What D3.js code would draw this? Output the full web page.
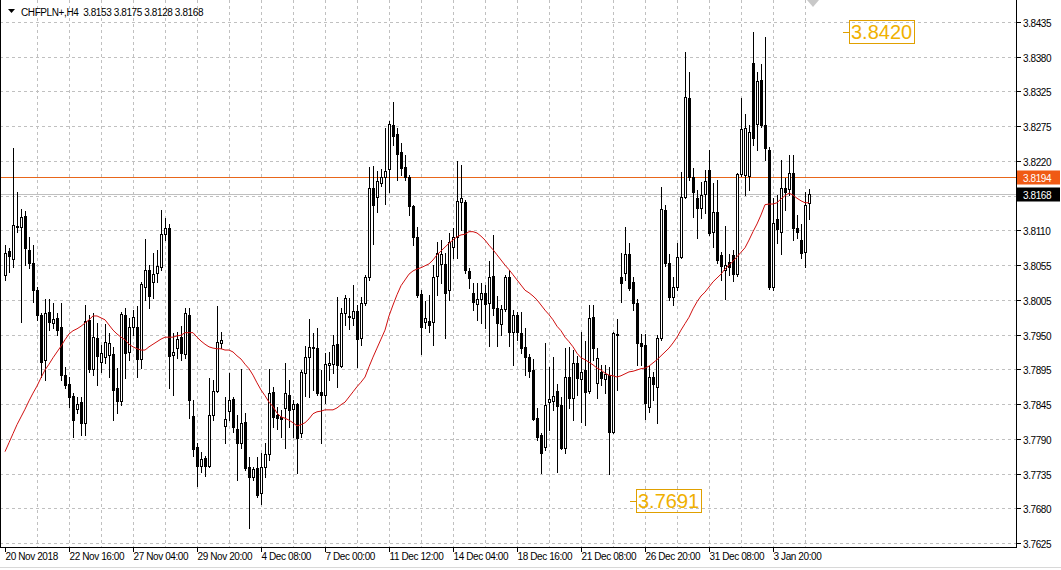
<!DOCTYPE html>
<html>
<head>
<meta charset="utf-8">
<style>
  body { margin: 0; background: #fff; }
  svg text { font-family: "Liberation Sans", Arial, sans-serif; font-size: 10px; letter-spacing: -0.4px; fill: #000; }
</style>
</head>
<body>
<svg id="chart" width="1061" height="570"></svg>
<script src="https://d3js.org/d3.v7.min.js"></script>
<script>
// CHFPLN+ H4 candles
var title = "CHFPLN+,H4  3.8153 3.8175 3.8128 3.8168";

var open = [
  3.8042, 3.8079, 3.8066, 3.8118, 3.8116, 3.8133, 3.8081, 3.8060, 3.8018, 3.7980,
  3.7910, 3.7984, 3.7967, 3.7975, 3.7961, 3.7886, 3.7872, 3.7854, 3.7833, 3.7844,
  3.7812, 3.7972, 3.7896, 3.7944, 3.7906, 3.7914, 3.7917, 3.7919, 3.7866, 3.7846,
  3.7980, 3.7922, 3.7961, 3.7961, 3.7911, 3.8023, 3.8050, 3.8031, 3.8045, 3.8054,
  3.8105, 3.8115, 3.7917, 3.7928, 3.7945, 3.7919, 3.7980, 3.7823, 3.7774, 3.7745,
  3.7757, 3.7745, 3.7824, 3.7861, 3.7936, 3.7807, 3.7830, 3.7849, 3.7802, 3.7781,
  3.7813, 3.7743, 3.7728, 3.7742, 3.7703, 3.7743, 3.7763, 3.7860, 3.7824, 3.7821,
  3.7835, 3.7855, 3.7833, 3.7841, 3.7796, 3.7889, 3.7914, 3.7930, 3.7928, 3.7860,
  3.7855, 3.7902, 3.7903, 3.7934, 3.7900, 3.7983, 3.7978, 3.7975, 3.7986, 3.7944,
  3.7998, 3.8039, 3.8177, 3.8163, 3.8185, 3.8194, 3.8206, 3.8275, 3.8261, 3.8233,
  3.8210, 3.8194, 3.8149, 3.8101, 3.8012, 3.7969, 3.7970, 3.7969, 3.8040, 3.8059,
  3.8059, 3.8018, 3.8085, 3.8101, 3.8155, 3.8155, 3.8048, 3.8014, 3.7997, 3.8004,
  3.8014, 3.7998, 3.8040, 3.7990, 3.7966, 3.7989, 3.8039, 3.7953, 3.7980, 3.7951,
  3.7930, 3.7914, 3.7894, 3.7819, 3.7793, 3.7774, 3.7844, 3.7846, 3.7861, 3.7840,
  3.7773, 3.7883, 3.7851, 3.7905, 3.7880, 3.7894, 3.7861, 3.7976, 3.7874, 3.7891,
  3.7880, 3.7886, 3.7798, 3.7950, 3.8039, 3.8045, 3.8074, 3.8031, 3.7998, 3.7936,
  3.7933, 3.7837, 3.7883, 3.7868, 3.7944, 3.8143, 3.8060, 3.8008, 3.8023, 3.8070,
  3.8163, 3.8317, 3.8194, 3.8161, 3.8146, 3.8168, 3.8205, 3.8109, 3.8140, 3.8073,
  3.8050, 3.8062, 3.8073, 3.8043, 3.8199, 3.8197, 3.8196, 3.8371, 3.8276, 3.8345,
  3.8275, 3.8236, 3.8023, 3.8129, 3.8109, 3.8177, 3.8175, 3.8200, 3.8115, 3.8096,
  3.8077, 3.8153
];
var high = [
  3.8088, 3.8084, 3.8239, 3.8171, 3.8144, 3.8141, 3.8101, 3.8088, 3.8023, 3.7983,
  3.8004, 3.8004, 3.7998, 3.7983, 3.7998, 3.7899, 3.7883, 3.7858, 3.7852, 3.7852,
  3.7995, 3.7980, 3.7983, 3.7967, 3.7933, 3.7966, 3.7952, 3.7930, 3.7897, 3.7984,
  3.7990, 3.7975, 3.7987, 3.7994, 3.8031, 3.8098, 3.8057, 3.8076, 3.8081, 3.8143,
  3.8130, 3.8121, 3.7952, 3.7953, 3.7962, 3.7990, 3.7990, 3.7847, 3.7781, 3.7767,
  3.7760, 3.7882, 3.7878, 3.7994, 3.7953, 3.7852, 3.7889, 3.7852, 3.7824, 3.7896,
  3.7827, 3.7759, 3.7743, 3.7759, 3.7765, 3.7781, 3.7896, 3.7868, 3.7837, 3.7832,
  3.7905, 3.7878, 3.7847, 3.7843, 3.7894, 3.7931, 3.7973, 3.7952, 3.7959, 3.7894,
  3.7920, 3.7922, 3.7948, 3.8008, 3.7990, 3.8011, 3.8006, 3.8026, 3.7995, 3.8008,
  3.8042, 3.8210, 3.8211, 3.8203, 3.8206, 3.8270, 3.8281, 3.8311, 3.8270, 3.8247,
  3.8228, 3.8197, 3.8151, 3.8116, 3.8018, 3.8001, 3.8011, 3.8057, 3.8093, 3.8096,
  3.8076, 3.8107, 3.8115, 3.8219, 3.8213, 3.8158, 3.8053, 3.8029, 3.8029, 3.8029,
  3.8026, 3.8063, 3.8104, 3.8009, 3.7995, 3.8042, 3.8050, 3.7987, 3.7984, 3.7984,
  3.7959, 3.7919, 3.7911, 3.7835, 3.7796, 3.7936, 3.7899, 3.7914, 3.7872, 3.7852,
  3.7928, 3.7930, 3.7925, 3.7916, 3.7953, 3.7939, 3.7995, 3.7995, 3.7928, 3.7902,
  3.7902, 3.7899, 3.7953, 3.7973, 3.8076, 3.8116, 3.8091, 3.8039, 3.8004, 3.7950,
  3.7950, 3.7900, 3.7891, 3.7948, 3.8179, 3.8151, 3.8074, 3.8039, 3.8091, 3.8202,
  3.8388, 3.8357, 3.8208, 3.8174, 3.8186, 3.8205, 3.8236, 3.8185, 3.8189, 3.8077,
  3.8118, 3.8074, 3.8081, 3.8200, 3.8317, 3.8292, 3.8275, 3.8420, 3.8357, 3.8370,
  3.8412, 3.8241, 3.8161, 3.8166, 3.8220, 3.8192, 3.8228, 3.8228, 3.8135, 3.8121,
  3.8171, 3.8175
];
var low = [
  3.8034, 3.8046, 3.8054, 3.8109, 3.7969, 3.8057, 3.8053, 3.8000, 3.7972, 3.7883,
  3.7878, 3.7956, 3.7959, 3.7948, 3.7878, 3.7866, 3.7837, 3.7790, 3.7827, 3.7793,
  3.7793, 3.7891, 3.7886, 3.7871, 3.7891, 3.7905, 3.7883, 3.7816, 3.7827, 3.7840,
  3.7882, 3.7910, 3.7948, 3.7883, 3.7897, 3.8003, 3.7990, 3.8006, 3.8031, 3.8050,
  3.8096, 3.7866, 3.7855, 3.7913, 3.7910, 3.7913, 3.7819, 3.7760, 3.7714, 3.7735,
  3.7729, 3.7743, 3.7816, 3.7860, 3.7928, 3.7781, 3.7816, 3.7798, 3.7723, 3.7773,
  3.7739, 3.7648, 3.7723, 3.7697, 3.7686, 3.7728, 3.7754, 3.7805, 3.7802, 3.7790,
  3.7773, 3.7805, 3.7790, 3.7734, 3.7790, 3.7854, 3.7852, 3.7863, 3.7855, 3.7781,
  3.7843, 3.7878, 3.7889, 3.7868, 3.7899, 3.7964, 3.7958, 3.7964, 3.7899, 3.7933,
  3.7995, 3.8034, 3.8090, 3.8140, 3.8180, 3.8152, 3.8171, 3.8244, 3.8189, 3.8197,
  3.8189, 3.8135, 3.8088, 3.8008, 3.7919, 3.7959, 3.7953, 3.7933, 3.8011, 3.8029,
  3.7944, 3.8003, 3.8068, 3.8068, 3.8112, 3.8045, 3.8022, 3.7987, 3.7972, 3.7967,
  3.7959, 3.7931, 3.7980, 3.7931, 3.7948, 3.7986, 3.7931, 3.7902, 3.7941, 3.7920,
  3.7886, 3.7883, 3.7816, 3.7785, 3.7734, 3.7770, 3.7801, 3.7832, 3.7735, 3.7771,
  3.7765, 3.7835, 3.7816, 3.7855, 3.7813, 3.7809, 3.7858, 3.7910, 3.7851, 3.7871,
  3.7858, 3.7732, 3.7796, 3.7863, 3.8000, 3.8034, 3.8018, 3.7987, 3.7902, 3.7902,
  3.7818, 3.7829, 3.7847, 3.7812, 3.7941, 3.8055, 3.8003, 3.7995, 3.8018, 3.8068,
  3.8161, 3.8189, 3.8132, 3.8099, 3.8130, 3.8138, 3.8104, 3.8085, 3.8060, 3.8034,
  3.8004, 3.8042, 3.8032, 3.8040, 3.8196, 3.8166, 3.8174, 3.8244, 3.8236, 3.8272,
  3.8220, 3.8020, 3.8018, 3.8091, 3.8074, 3.8143, 3.8166, 3.8096, 3.8099, 3.8068,
  3.8054, 3.8128
];
var close = [
  3.8076, 3.8071, 3.8119, 3.8116, 3.8132, 3.8084, 3.8060, 3.8018, 3.7980, 3.7906,
  3.7983, 3.7969, 3.7973, 3.7956, 3.7886, 3.7871, 3.7852, 3.7816, 3.7841, 3.7812,
  3.7970, 3.7896, 3.7945, 3.7916, 3.7920, 3.7938, 3.7936, 3.7863, 3.7846, 3.7981,
  3.7920, 3.7961, 3.7976, 3.7911, 3.8028, 3.8050, 3.8009, 3.8043, 3.8056, 3.8105,
  3.8115, 3.7916, 3.7922, 3.7942, 3.7920, 3.7983, 3.7847, 3.7771, 3.7745, 3.7756,
  3.7745, 3.7824, 3.7861, 3.7938, 3.7941, 3.7818, 3.7847, 3.7805, 3.7781, 3.7812,
  3.7742, 3.7728, 3.7740, 3.7700, 3.7743, 3.7763, 3.7858, 3.7821, 3.7819, 3.7818,
  3.7858, 3.7832, 3.7841, 3.7788, 3.7891, 3.7914, 3.7930, 3.7928, 3.7858, 3.7855,
  3.7903, 3.7905, 3.7933, 3.7902, 3.7983, 3.8006, 3.7976, 3.7986, 3.7942, 3.7998,
  3.8039, 3.8177, 3.8151, 3.8188, 3.8194, 3.8203, 3.8276, 3.8258, 3.8230, 3.8208,
  3.8194, 3.8149, 3.8101, 3.8011, 3.7961, 3.7975, 3.7964, 3.8039, 3.8076, 3.8074,
  3.8014, 3.8093, 3.8101, 3.8157, 3.8161, 3.8050, 3.8037, 3.8000, 3.8004, 3.8014,
  3.7997, 3.8039, 3.7990, 3.7967, 3.7989, 3.8039, 3.7953, 3.7980, 3.7953, 3.7928,
  3.7914, 3.7892, 3.7818, 3.7790, 3.7765, 3.7840, 3.7849, 3.7854, 3.7838, 3.7773,
  3.7883, 3.7851, 3.7905, 3.7882, 3.7891, 3.7860, 3.7975, 3.7928, 3.7913, 3.7882,
  3.7888, 3.7798, 3.7951, 3.7949, 3.8029, 3.8074, 3.8022, 3.7998, 3.7936, 3.7931,
  3.7843, 3.7883, 3.7872, 3.7944, 3.8144, 3.8060, 3.8008, 3.8023, 3.8070, 3.8163,
  3.8318, 3.8194, 3.8171, 3.8146, 3.8166, 3.8188, 3.8107, 3.8140, 3.8065, 3.8056,
  3.8057, 3.8054, 3.8043, 3.8199, 3.8269, 3.8270, 3.8264, 3.8255, 3.8343, 3.8275,
  3.8239, 3.8023, 3.8123, 3.8113, 3.8177, 3.8171, 3.8200, 3.8115, 3.8109, 3.8076,
  3.8151, 3.8168
];
// red moving average, one value per bar
var ma = [
  3.7767, 3.7781, 3.7795, 3.7809, 3.7821, 3.7833, 3.7846, 3.7858, 3.7869, 3.7882,
  3.7894, 3.7903, 3.7913, 3.7922, 3.7931, 3.7941, 3.7950, 3.7955, 3.7958, 3.7962,
  3.7967, 3.7972, 3.7978, 3.7978, 3.7975, 3.7972, 3.7964, 3.7956, 3.7950, 3.7945,
  3.7941, 3.7934, 3.7930, 3.7927, 3.7925, 3.7925, 3.7930, 3.7934, 3.7938, 3.7942,
  3.7945, 3.7945, 3.7945, 3.7947, 3.7948, 3.7952, 3.7952, 3.7952, 3.7945, 3.7939,
  3.7934, 3.7930, 3.7928, 3.7927, 3.7927, 3.7925, 3.7925, 3.7922, 3.7916, 3.7911,
  3.7903, 3.7896, 3.7886, 3.7874, 3.7863, 3.7854, 3.7844, 3.7837, 3.7827, 3.7821,
  3.7819, 3.7816, 3.7812, 3.7807, 3.7809, 3.7812, 3.7818, 3.7826, 3.7829, 3.7830,
  3.7832, 3.7832, 3.7832, 3.7835, 3.7840, 3.7844, 3.7852, 3.7860, 3.7868, 3.7875,
  3.7883, 3.7899, 3.7914, 3.7928, 3.7942, 3.7956, 3.7978, 3.7995, 3.8011, 3.8025,
  3.8034, 3.8043, 3.8048, 3.8051, 3.8053, 3.8056, 3.8059, 3.8065, 3.8073, 3.8079,
  3.8085, 3.8091, 3.8096, 3.8101, 3.8104, 3.8105, 3.8109, 3.8109, 3.8107, 3.8102,
  3.8096, 3.8088, 3.8081, 3.8073, 3.8065, 3.8057, 3.8050, 3.8042, 3.8034, 3.8026,
  3.8018, 3.8014, 3.8009, 3.8003, 3.7995, 3.7987, 3.7980, 3.7972, 3.7962, 3.7955,
  3.7945, 3.7938, 3.7930, 3.7920, 3.7913, 3.7910, 3.7906, 3.7902, 3.7897, 3.7894,
  3.7889, 3.7886, 3.7885, 3.7883, 3.7885, 3.7888, 3.7891, 3.7892, 3.7894, 3.7896,
  3.7897, 3.7900, 3.7905, 3.7910, 3.7916, 3.7922, 3.7928, 3.7936, 3.7945, 3.7956,
  3.7966, 3.7976, 3.7989, 3.8000, 3.8009, 3.8015, 3.8023, 3.8031, 3.8037, 3.8043,
  3.8051, 3.8057, 3.8063, 3.8070, 3.8077, 3.8084, 3.8096, 3.8109, 3.8121, 3.8135,
  3.8151, 3.8152, 3.8152, 3.8154, 3.8160, 3.8165, 3.8169, 3.8166, 3.8161, 3.8157,
  3.8154, 3.8154
];

var timeLabels = ["20 Nov 2018", "22 Nov 16:00", "27 Nov 04:00", "29 Nov 20:00", "4 Dec 08:00",
  "7 Dec 00:00", "11 Dec 12:00", "14 Dec 04:00", "18 Dec 16:00", "21 Dec 08:00",
  "26 Dec 20:00", "31 Dec 08:00", "3 Jan 20:00"];
var priceLabels = ["3.8435", "3.8380", "3.8325", "3.8275", "3.8220", "3.8165", "3.8110", "3.8055",
  "3.8005", "3.7950", "3.7895", "3.7845", "3.7790", "3.7735", "3.7680", "3.7625"];

var hLine = 3.8194;      // orange horizontal line
var bid = 3.8168;        // last price
var marks = [3.8420, 3.7691];

var W = 1061, H = 570;
var plotRight = 1016, plotBottom = 547;
var gridTop = 3.8435, gridStep = 0.0054;

var svg = d3.select("#chart");
svg.append("rect").attr("width", W).attr("height", H).attr("fill", "#fff");

var x = d3.scaleLinear().domain([0, open.length - 1]).range([5, 809]);
var y = d3.scaleLinear().domain([gridTop - gridStep * 15, gridTop]).range([543, 22]);
function px(v) { return Math.round(x(v)) + 0.5; }
function py(v) { return Math.round(y(v)) + 0.5; }

var priceTicks = priceLabels.map(function (d, i) { return gridTop - gridStep * i; });

// grid
var grid = svg.append("g").attr("stroke", "#c0c0c0").attr("stroke-dasharray", "3,3");
grid.selectAll("line.h").data(priceTicks).enter().append("line")
  .attr("x1", 0).attr("x2", plotRight).attr("y1", py).attr("y2", py);
grid.selectAll("line.v").data(d3.range(8, open.length, 8)).enter().append("line")
  .attr("x1", px).attr("x2", px).attr("y1", 0).attr("y2", plotBottom);

// bid line and horizontal line object
svg.append("line").attr("x1", 0).attr("x2", plotRight)
  .attr("y1", py(bid)).attr("y2", py(bid)).attr("stroke", "#c0c0c0");
svg.append("line").attr("x1", 0).attr("x2", plotRight)
  .attr("y1", py(hLine)).attr("y2", py(hLine)).attr("stroke", "#e8661a");

// candles
var idx = d3.range(open.length);
var candles = svg.append("g").selectAll("g").data(idx).enter().append("g");
candles.append("line")
  .attr("x1", px).attr("x2", px)
  .attr("y1", function (i) { return Math.round(y(high[i])); })
  .attr("y2", function (i) { return Math.round(y(low[i])) + 1; })
  .attr("stroke", "#000");
candles.append("rect")
  .attr("x", function (i) { return px(i) - 1; })
  .attr("width", 2)
  .attr("y", function (i) { return py(Math.max(open[i], close[i])); })
  .attr("height", function (i) { return Math.max(0, Math.round(y(Math.min(open[i], close[i]))) - Math.round(y(Math.max(open[i], close[i])))); })
  .attr("fill", function (i) { return close[i] >= open[i] ? "#fff" : "#000"; })
  .attr("stroke", "#000");

// moving average
svg.append("path").datum(idx)
  .attr("fill", "none").attr("stroke", "#d01010").attr("stroke-width", 1)
  .attr("d", d3.line().x(function (i) { return x(i); }).y(function (i) { return y(ma[i]); }));

// price marks (text objects)
var markPos = [843, 630];
marks.forEach(function (m, k) {
  var g = svg.append("g");
  var tx = markPos[k], ty = Math.round(y(m));
  g.append("line").attr("x1", tx).attr("x2", tx + 7).attr("y1", ty + 0.5).attr("y2", ty + 0.5)
    .attr("stroke", "#e0a000");
  var t = g.append("text").attr("x", tx + 8).attr("y", ty + 7)
    .style("font-size", "20px").style("letter-spacing", "0px")
    .style("fill", "#f0b000").text(m.toFixed(4));
  var bb = t.node().getBBox();
  g.append("rect").attr("x", tx + 6.5).attr("y", ty - 11.5)
    .attr("width", Math.round(bb.width) + 4).attr("height", 23)
    .attr("fill", "none").attr("stroke", "#e0a000");
});

// axes
svg.append("line").attr("x1", plotRight + 0.5).attr("x2", plotRight + 0.5)
  .attr("y1", 0).attr("y2", plotBottom + 1).attr("stroke", "#000");
svg.append("line").attr("x1", 0).attr("x2", plotRight + 1)
  .attr("y1", plotBottom + 0.5).attr("y2", plotBottom + 0.5).attr("stroke", "#000");
svg.append("line").attr("x1", 0.5).attr("x2", 0.5).attr("y1", 0).attr("y2", plotBottom)
  .attr("stroke", "#000");

var ya = svg.append("g");
ya.selectAll("line").data(priceTicks).enter().append("line")
  .attr("x1", plotRight + 1).attr("x2", plotRight + 5).attr("y1", py).attr("y2", py)
  .attr("stroke", "#000");
ya.selectAll("text").data(priceLabels).enter().append("text")
  .attr("x", plotRight + 7).attr("y", function (d, i) { return py(priceTicks[i]) + 4; })
  .text(function (d) { return d; });

var xa = svg.append("g");
xa.selectAll("line").data(timeLabels).enter().append("line")
  .attr("x1", function (d, i) { return px(i * 16); }).attr("x2", function (d, i) { return px(i * 16); })
  .attr("y1", plotBottom).attr("y2", plotBottom + 5).attr("stroke", "#000");
xa.selectAll("text").data(timeLabels).enter().append("text")
  .attr("x", function (d, i) { return px(i * 16); }).attr("y", 560)
  .text(function (d) { return d; });

// price tags on the axis
function tag(v, bg) {
  var ty = py(v);
  svg.append("rect").attr("x", plotRight + 1).attr("y", ty - 7).attr("width", 43).attr("height", 14)
    .attr("fill", bg);
  svg.append("text").attr("x", plotRight + 7).attr("y", ty + 4).style("fill", "#fff")
    .text(v.toFixed(4));
}
tag(hLine, "#f05a14");
tag(bid, "#000");

// shift marker
svg.append("path").attr("d", "M807,0 L819,0 L813,7 Z").attr("fill", "#c8c8c8");

// bottom window edge
svg.append("line").attr("x1", 0).attr("x2", W).attr("y1", 567.5).attr("y2", 567.5).attr("stroke", "#d8d8d8");

// header
svg.append("path").attr("d", "M8,9 L15,9 L11.5,13 Z").attr("fill", "#000");
svg.append("text").attr("x", 21).attr("y", 16).attr("xml:space", "preserve").text(title);
</script>
</body>
</html>
